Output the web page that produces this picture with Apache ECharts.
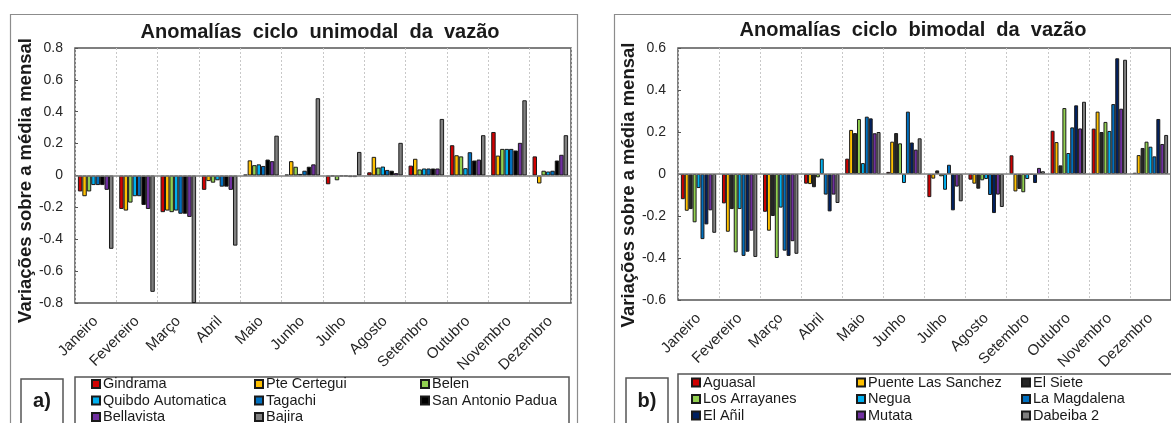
<!DOCTYPE html>
<html>
<head>
<meta charset="utf-8">
<script src="https://cdn.jsdelivr.net/npm/echarts@6/dist/echarts.min.js"></script>
<style>
html,body{margin:0;padding:0;background:#fff;}
#chart{width:1171px;height:423px;}
</style>
</head>
<body>
<div id="chart"></div>
<script>
// ---------- DATA ----------
const months = ['Janeiro','Fevereiro','Março','Abril','Maio','Junho','Julho','Agosto','Setembro','Outubro','Novembro','Dezembro'];

// Panel a) unimodal
const seriesNamesA = ['Gindrama','Pte Certegui','Belen','Quibdo Automatica','Tagachi','San Antonio Padua','Bellavista','Bajira'];
const gindrama    = [-0.10,-0.21,-0.23,-0.09,0.005,0.005,-0.055,0.02,0.062,0.19,0.273,0.12];
const pteCertegui = [-0.13,-0.22,-0.22,-0.035,0.095,0.09,-0.005,0.117,0.105,0.127,0.125,-0.05];
const belen       = [-0.10,-0.17,-0.23,-0.045,0.065,0.055,-0.03,0.05,0.038,0.12,0.167,0.03];
const quibdo      = [-0.06,-0.13,-0.22,-0.03,0.07,0.01,-0.005,0.056,0.044,0.046,0.167,0.025];
const tagachi     = [-0.06,-0.13,-0.24,-0.07,0.06,0.03,-0.005,0.035,0.044,0.146,0.167,0.03];
const sanAntonio  = [-0.06,-0.185,-0.24,-0.07,0.10,0.055,-0.01,0.03,0.044,0.094,0.157,0.094];
const bellavista  = [-0.09,-0.21,-0.26,-0.09,0.09,0.07,-0.01,0.015,0.044,0.10,0.205,0.13];
const bajira      = [-0.46,-0.73,-0.80,-0.44,0.25,0.485,0.148,0.205,0.355,0.253,0.472,0.253];

// Panel b) bimodal
const seriesNamesB = ['Aguasal','Puente Las Sanchez','El Siete','Los Arrayanes','Negua','La Magdalena','El Añil','Mutata','Dabeiba 2'];
const aguasal      = [-0.12,-0.14,-0.18,-0.046,0.073,0.01,-0.11,-0.027,0.089,0.206,0.216,0.006];
const puente       = [-0.175,-0.275,-0.27,-0.048,0.21,0.154,-0.022,-0.046,-0.083,0.152,0.297,0.09];
const elSiete      = [-0.167,-0.167,-0.20,-0.063,0.195,0.195,0.017,-0.07,-0.071,0.041,0.20,0.124];
const losArrayanes = [-0.23,-0.373,-0.40,-0.016,0.262,0.146,-0.011,-0.03,-0.087,0.314,0.248,0.154];
const negua        = [-0.067,-0.167,-0.16,0.073,0.052,-0.043,-0.075,-0.024,-0.024,0.10,0.205,0.13];
const laMagdalena  = [-0.31,-0.39,-0.365,-0.098,0.273,0.297,0.044,-0.10,-0.003,0.222,0.333,0.084];
const elAnil       = [-0.24,-0.37,-0.39,-0.178,0.265,0.15,-0.173,-0.186,-0.043,0.327,0.551,0.262];
const mutata       = [-0.173,-0.27,-0.32,-0.098,0.194,0.116,-0.06,-0.098,0.029,0.217,0.311,0.143];
const dabeiba      = [-0.28,-0.395,-0.38,-0.138,0.20,0.17,-0.13,-0.157,0.013,0.344,0.544,0.186];

const titleA = 'Anomalías  ciclo  unimodal  da  vazão';
const titleB = 'Anomalías  ciclo  bimodal  da  vazão';
const yName = 'Variações sobre a média mensal';

// ---------- STYLE ----------
const FONT = "'Liberation Sans', Arial, sans-serif";
const colorsA = ['#D00000','#FFC000','#92D050','#00B0F0','#0070C0','#000000','#7030A0','#808080'];
const colorsB = ['#D00000','#FFC000','#262626','#92D050','#00B0F0','#0070C0','#002060','#7030A0','#808080'];
const dataA = [gindrama,pteCertegui,belen,quibdo,tagachi,sanAntonio,bellavista,bajira];
const dataB = [aguasal,puente,elSiete,losArrayanes,negua,laMagdalena,elAnil,mutata,dabeiba];

function makeSeries(names, datas, colors, idx){
  return names.map((n,i)=>{
    const s = {
      name:n, type:'bar', xAxisIndex:idx, yAxisIndex:idx,
      data:datas[i], barGap:'0%', barCategoryGap:'14%',
      itemStyle:{color:colors[i], borderColor:'#1a1a1a', borderWidth:1},
      emphasis:{disabled:true}, clip:true
    };
    if(i===0){
      s.markLine = {silent:true, symbol:'none', label:{show:false},
        lineStyle:{color:'#808080', width:1.5, type:'solid'},
        data:[{yAxis:0}], animation:false};
    }
    return s;
  });
}

function xAx(idx){
  return {
    type:'category', gridIndex:idx, data:months, boundaryGap:true,
    axisLine:{show:false}, axisTick:{show:false},
    axisLabel:{rotate:45, fontFamily:FONT, fontSize:15, color:'#262626', margin:16, interval:0},
    splitLine:{show:true, lineStyle:{color:'#c8c8c8', type:[2,2], width:1}}
  };
}
function yAx(idx,min,max,gap,shift){
  return {
    type:'value', gridIndex:idx, min:min, max:max, interval:0.2,
    axisLine:{show:false},
    axisTick:{show:true, inside:true, length:3, lineStyle:{color:'#555'}},
    splitLine:{show:false},
    axisLabel:{fontFamily:FONT, fontSize:14, color:'#262626', margin:12},
    name:yName, nameLocation:'middle', nameGap:gap,
    nameTextStyle:{fontFamily:FONT, fontSize:18.5, fontWeight:'bold', color:'#1a1a1a', padding:[0,shift,0,0]}
  };
}
function legendCol(names, left, top){
  return {
    data:names, orient:'vertical', left:left, top:top, height:80, padding:0,
    itemWidth:8, itemHeight:8, itemGap:1.5, icon:'rect', selectedMode:false,
    textStyle:{fontFamily:FONT, fontSize:14.5, color:'#1a1a1a', lineHeight:15, padding:[0,0,0,-2]}
  };
}

const option = {
  animation:false,
  backgroundColor:'#ffffff',
  title:[
    {text:titleA, left:315, top:17, textAlign:'center',
     textStyle:{fontFamily:FONT, fontSize:20, fontWeight:'bold', color:'#1a1a1a'}},
    {text:titleB, left:908, top:15, textAlign:'center',
     textStyle:{fontFamily:FONT, fontSize:20, fontWeight:'bold', color:'#1a1a1a'}}
  ],
  grid:[
    {left:75, top:48, width:496, height:255, show:true, borderColor:'#555', borderWidth:1.5, backgroundColor:'transparent'},
    {left:678, top:48, width:496, height:252, show:true, borderColor:'#555', borderWidth:1.5, backgroundColor:'transparent'}
  ],
  xAxis:[xAx(0), xAx(1)],
  yAxis:[yAx(0,-0.8,0.8,38,10), yAx(1,-0.6,0.6,40,22)],
  legend:[
    legendCol(['Gindrama','Quibdo Automatica','Bellavista'], 91, 376.5),
    legendCol(['Pte Certegui','Tagachi','Bajira'], 254, 376.5),
    legendCol(['Belen','San Antonio Padua'], 420, 376.5),
    legendCol(['Aguasal','Los Arrayanes','El Añil'], 691, 375),
    legendCol(['Puente Las Sanchez','Negua','Mutata'], 856, 375),
    legendCol(['El Siete','La Magdalena','Dabeiba 2'], 1021, 375)
  ],
  graphic:[
    {type:'rect', shape:{x:10.5, y:14.5, width:567, height:440}, style:{fill:'none', stroke:'#8c8c8c', lineWidth:1.2}, silent:true},
    {type:'rect', shape:{x:614.5, y:14.5, width:600, height:440}, style:{fill:'none', stroke:'#8c8c8c', lineWidth:1.2}, silent:true},
    {type:'rect', shape:{x:75, y:377, width:494, height:80}, style:{fill:'none', stroke:'#555', lineWidth:1.5}, silent:true},
    {type:'rect', shape:{x:678, y:374, width:600, height:80}, style:{fill:'none', stroke:'#555', lineWidth:1.5}, silent:true},
    {type:'rect', shape:{x:21, y:379, width:42, height:60}, style:{fill:'none', stroke:'#555', lineWidth:1.5}, silent:true},
    {type:'rect', shape:{x:626, y:378, width:42, height:60}, style:{fill:'none', stroke:'#555', lineWidth:1.5}, silent:true},
    {type:'text', x:42, y:401, style:{text:'a)', font:"bold 20px 'Liberation Sans', Arial, sans-serif", fill:'#1a1a1a', textAlign:'center', textVerticalAlign:'middle'}, silent:true},
    {type:'text', x:647, y:401, style:{text:'b)', font:"bold 20px 'Liberation Sans', Arial, sans-serif", fill:'#1a1a1a', textAlign:'center', textVerticalAlign:'middle'}, silent:true}
  ],
  series:[].concat(makeSeries(seriesNamesA,dataA,colorsA,0), makeSeries(seriesNamesB,dataB,colorsB,1))
};

const chart = echarts.init(document.getElementById('chart'), null, {renderer:'canvas'});
chart.setOption(option);
</script>
</body>
</html>
